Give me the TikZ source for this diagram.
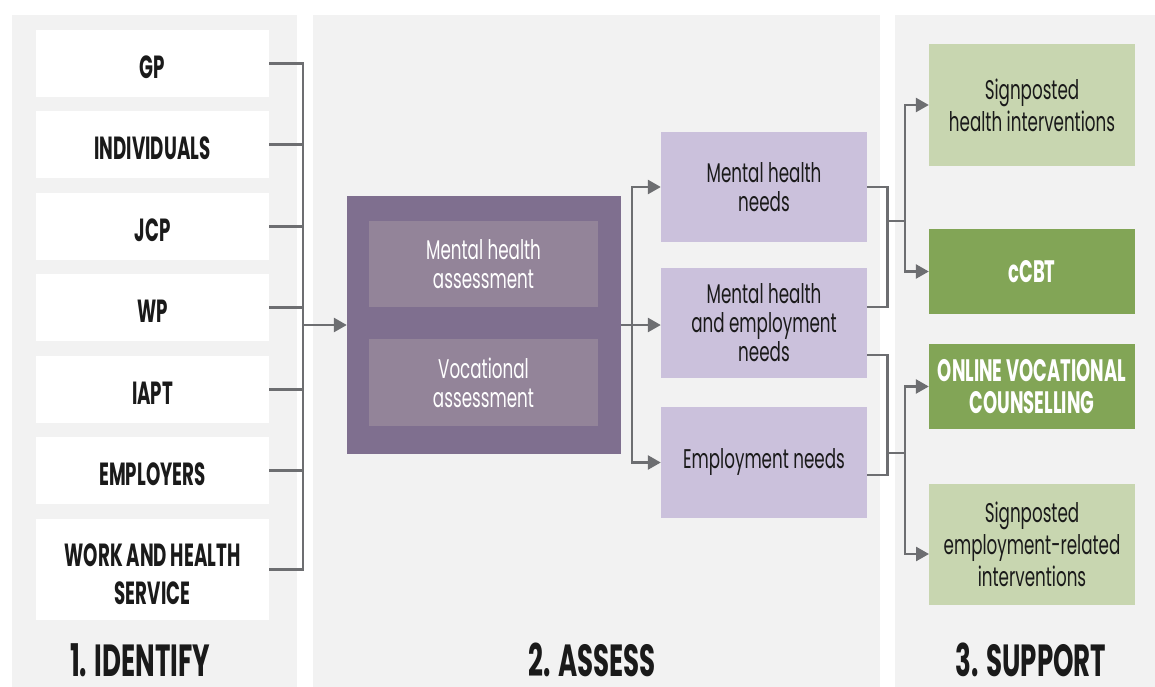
\documentclass[tikz,border=0pt]{standalone}
\usepackage{fontspec}
\newfontfamily\cond{Poppins}[FakeStretch=0.62]
\newfontfamily\srcfont{Poppins}[FakeStretch=0.57]
\newfontfamily\greenfont{Poppins}[FakeStretch=0.58]
\newfontfamily\titlefont{Poppins}[FakeStretch=0.58]
\usetikzlibrary{arrows.meta,calc}
\definecolor{panelgray}{HTML}{F2F2F2}
\definecolor{purpleD}{HTML}{7F6F8F}
\definecolor{purpleI}{HTML}{938499}
\definecolor{purpleL}{HTML}{CBC1DC}
\definecolor{greenL}{HTML}{C8D6B0}
\definecolor{greenD}{HTML}{82A556}
\definecolor{conngray}{HTML}{6D6E71}
\definecolor{txt}{HTML}{1A1A1A}
\tikzset{
  panelbox/.style={fill=panelgray, draw=none},
  srcbox/.style={fill=white, minimum width=233pt, inner sep=0pt, align=center, text=txt,
    font=\srcfont\bfseries\fontsize{32}{38}\selectfont},
  srcone/.style={srcbox, minimum height=67pt, text height=30pt, text depth=0pt},
  innerbox/.style={fill=purpleI, minimum width=229pt, inner sep=0pt, align=center, text=white,
    font=\cond\fontsize{27}{29}\selectfont},
  needbox/.style={fill=purpleL, minimum width=206pt, inner sep=0pt, align=center, text=txt,
    font=\cond\fontsize{27}{29}\selectfont},
  lgbox/.style={fill=greenL, minimum width=206pt, inner sep=0pt, align=center, text=txt,
    font=\cond\fontsize{27}{32}\selectfont},
  dgbox/.style={fill=greenD, minimum width=206pt, inner sep=0pt, align=center, text=white,
    font=\greenfont\bfseries\fontsize{31}{32}\selectfont},
  titletext/.style={anchor=base, inner sep=0pt, text=txt, font=\titlefont\bfseries\fontsize{45}{45}\selectfont},
  conn/.style={draw=conngray, line width=2.6pt},
  arr/.style={conn, -{Triangle[length=13pt,width=14pt]}},
}
\begin{document}
\begin{tikzpicture}[x=1pt,y=-1pt]
\fill[white] (0,0) rectangle (1155,687);
\useasboundingbox (0,0) rectangle (1155,687);
% panels
\fill[panelbox] (12,15) rectangle (297,687);
\fill[panelbox] (313,15) rectangle (880,687);
\fill[panelbox] (895,15) rectangle (1155,687);
% sources
\node[srcone] (gp) at (152.5,63.5) {GP};
\node[srcone] (ind) at (152.5,144.5) {INDIVIDUALS};
\node[srcone] (jcp) at (152.5,226.5) {JCP};
\node[srcone] (wp) at (152.5,307.5) {WP};
\node[srcone] (iapt) at (152.5,389.5) {IAPT};
\node[srcone] (emp) at (152.5,470.5) {EMPLOYERS};
\node[srcbox, minimum height=101pt] (whs) at (152.5,569.5) {\rule{0pt}{33pt}WORK AND HEALTH\\SERVICE};
% assess
\node[fill=purpleD, minimum width=274pt, minimum height=258pt, inner sep=0pt] (assess) at (484,325) {};
\node[innerbox, minimum height=86pt] (mha) at (483.5,264) {Mental health\\assessment};
\node[innerbox, minimum height=87pt] (voc) at (483.5,382.5) {Vocational\\assessment};
% needs
\node[needbox, minimum height=110pt] (n1) at (764,187) {Mental health\\needs};
\node[needbox, minimum height=110pt] (n2) at (764,323) {Mental health\\and employment\\needs};
\node[needbox, minimum height=111pt] (n3) at (764,462.5) {Employment needs};
% support
\node[lgbox, minimum height=122pt] (g1) at (1032,105) {Signposted\\health interventions};
\node[dgbox, minimum height=85pt] (g2) at (1032,271.5) {cCBT};
\node[dgbox, minimum height=85pt] (g3) at (1032,386.5) {ONLINE VOCATIONAL\\COUNSELLING};
\node[lgbox, minimum height=121pt] (g4) at (1032,544.5) {Signposted\\employment-related\\interventions};
% titles
\node[titletext] (t1) at (140,676) {1. IDENTIFY};
\node[titletext] (t2) at (592,676) {2. ASSESS};
\node[titletext] (t3) at (1031,676) {3. SUPPORT};
% left connectors
\coordinate (busL) at (303,325);
\draw[conn] (gp.east) -| (busL) |- (whs.east);
\foreach \b in {ind,jcp,wp,iapt,emp} \draw[conn] (\b.east) -- (\b.east -| busL);
\draw[arr] (busL) -- (assess.west);
% middle connectors
\coordinate (busM) at (632,325);
\draw[arr] (assess.east) -- (assess.east -| n2.west);
\draw[arr] (busM) |- (n1.west);
\draw[arr] (busM) |- (n3.west);
% right connectors
\coordinate (n2a) at (867,307);
\coordinate (n2b) at (867,355);
\coordinate (n3a) at (867,475);
\coordinate (ra) at (887.5,221);
\coordinate (jt) at (905,221);
\coordinate (rb) at (887.5,453);
\coordinate (jb) at (905,453);
\coordinate (g4a) at (929,554);
\draw[conn] (n1.east) -| (ra) |- (n2a);
\draw[conn] (ra) -- (jt);
\draw[arr] (jt) |- (g1.west);
\draw[arr] (jt) |- (g2.west);
\draw[conn] (n2b) -| (rb) |- (n3a);
\draw[conn] (rb) -- (jb);
\draw[arr] (jb) |- (g3.west);
\draw[arr] (jb) |- (g4a);
\end{tikzpicture}
\end{document}
